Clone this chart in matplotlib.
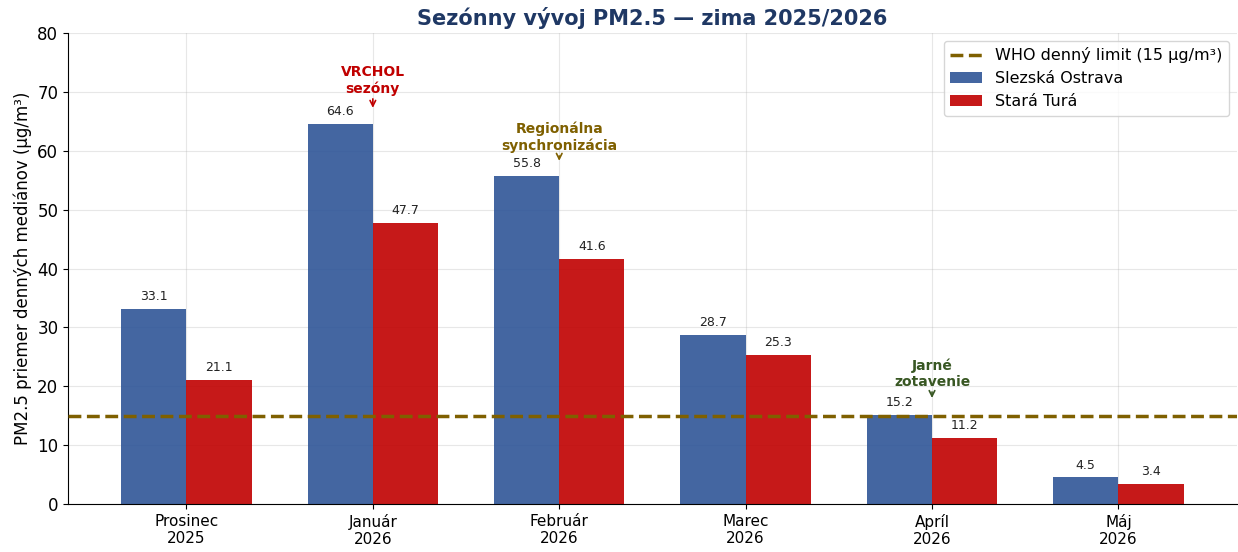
import matplotlib
matplotlib.use('Agg')
import matplotlib.pyplot as plt
import numpy as np

months = ['Prosinec\n2025', 'Január\n2026', 'Február\n2026', 'Marec\n2026', 'Apríl\n2026', 'Máj\n2026']
ostrava = [33.1, 64.6, 55.8, 28.7, 15.2, 4.5]
tura = [21.1, 47.7, 41.6, 25.3, 11.2, 3.4]
who_limit = 15

# annotations: (index of month, text, colour, arrow y, text y)
notes = [
    (1, 'VRCHOL\nsezóny', '#c00000', 67.3, 69.3),
    (2, 'Regionálna\nsynchronizácia', '#7f6000', 58.3, 59.6),
    (4, 'Jarné\nzotavenie', '#385723', 18.0, 19.5),
]

x = np.arange(len(months))
w = 0.35

fig, ax = plt.subplots(figsize=(12.38, 5.52), dpi=100)

ax.axhline(who_limit, color='#7f6000', ls='--', lw=2.5, label='WHO denný limit (15 µg/m³)', zorder=3)
b1 = ax.bar(x - w/2, ostrava, w, color='#2f5597', alpha=0.9, label='Slezská Ostrava', zorder=2)
b2 = ax.bar(x + w/2, tura, w, color='#c00000', alpha=0.9, label='Stará Turá', zorder=2)

for rect, v in zip(list(b1) + list(b2), ostrava + tura):
    ax.text(rect.get_x() + rect.get_width()/2, v + 1, f'{v:.1f}', ha='center', va='bottom',
            fontsize=9, color='#222222')

for i, txt, col, ya, yt in notes:
    ax.annotate(txt, xy=(i, ya), xytext=(i, yt), ha='center', va='bottom',
                fontsize=10, fontweight='bold', color=col,
                arrowprops=dict(arrowstyle='->', color=col, lw=1.2, shrinkA=0, shrinkB=0))

ax.set_ylim(0, 80)
ax.set_xticks(x)
ax.set_xticklabels(months, fontsize=11)
ax.tick_params(axis='y', labelsize=12)
ax.set_ylabel('PM2.5 priemer denných mediánov (µg/m³)', fontsize=12)
ax.set_title('Sezónny vývoj PM2.5 — zima 2025/2026', fontsize=15, fontweight='bold', color='#1f3864')
ax.grid(True, alpha=0.3, zorder=0)
ax.set_axisbelow(True)
ax.spines['top'].set_visible(False)
ax.spines['right'].set_visible(False)
ax.legend(loc='upper right', fontsize=11.5)

plt.subplots_adjust(left=0.055, right=0.999, top=0.94, bottom=0.087)
fig.savefig('out.png', dpi=100)
